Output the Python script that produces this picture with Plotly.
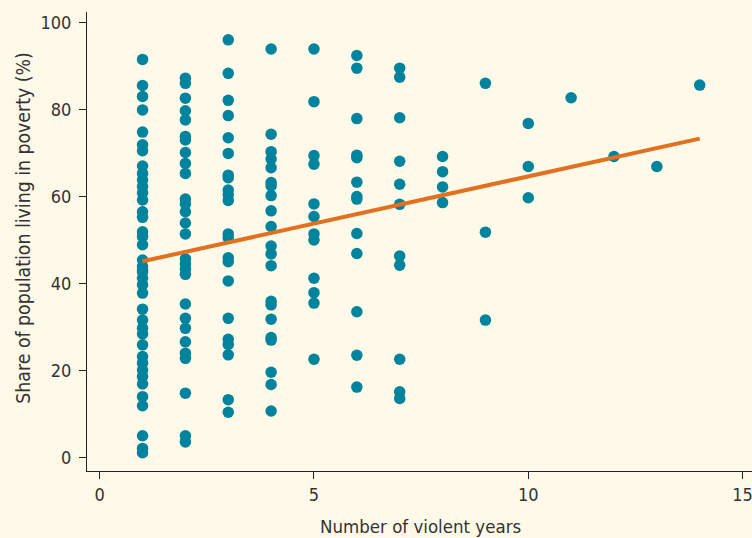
import plotly.graph_objects as go

# ---- data ----
violent_years = (
    [1] * 40 + [2] * 28 + [3] * 22 + [4] * 21 + [5] * 12 + [6] * 13 + [7] * 11
    + [8] * 4 + [9] * 3 + [10] * 3 + [11] + [12] + [13] + [14]
)
poverty_y1 = [91.6, 85.6, 83.1, 80.0, 74.9, 72.0, 70.6, 67.1, 65.4, 63.9, 62.4, 60.9, 59.3,
              56.6, 55.3, 52.0, 50.9, 49.0, 45.5, 44.0, 43.2, 42.8, 41.3, 39.8, 37.9, 34.2,
              31.7, 29.8, 28.5, 26.0, 23.3, 21.8, 20.2, 18.7, 17.0, 14.1, 12.0, 5.1, 2.2, 1.2]
poverty_y2 = [87.3, 86.1, 82.7, 79.8, 77.7, 73.9, 73.1, 70.2, 67.7, 65.4, 59.5, 58.4, 56.6,
              54.0, 51.5, 45.8, 44.6, 43.5, 42.2, 35.4, 32.1, 29.8, 26.7, 24.1, 22.9, 14.9,
              5.1, 3.7]
poverty_y3 = [96.1, 88.4, 82.2, 78.7, 73.6, 70.0, 65.0, 64.4, 61.6, 60.5, 59.2, 51.5, 50.6,
              46.0, 45.1, 40.7, 32.1, 27.3, 26.1, 23.7, 13.4, 10.5]
poverty_y4 = [94.0, 74.4, 70.4, 68.7, 66.7, 63.3, 62.5, 60.3, 56.8, 53.2, 48.7, 46.9, 44.2,
              36.0, 35.2, 31.9, 27.7, 27.1, 19.7, 16.9, 10.8]
poverty_y5 = [94.0, 81.9, 69.5, 67.5, 58.4, 55.5, 51.5, 50.1, 41.3, 38.0, 35.6, 22.7]
poverty_y6 = [92.5, 89.6, 78.0, 69.6, 69.0, 63.4, 60.1, 59.5, 51.6, 47.0, 33.6, 23.6, 16.3]
poverty_y7 = [89.6, 87.5, 78.2, 68.2, 62.9, 58.3, 46.4, 44.3, 22.7, 15.2, 13.7]
poverty_y8 = [69.3, 65.8, 62.3, 58.7]
poverty_y9 = [86.1, 51.9, 31.7]
poverty_y10 = [76.9, 67.0, 59.8]
poverty_y11_14 = [82.8, 69.3, 67.0, 85.7]

poverty_share = (poverty_y1 + poverty_y2 + poverty_y3 + poverty_y4 + poverty_y5 + poverty_y6
                 + poverty_y7 + poverty_y8 + poverty_y9 + poverty_y10 + poverty_y11_14)

fit_x = [1, 14]
fit_y = [45.2, 73.4]

x_ticks = [0, 5, 10, 15]
y_ticks = [0, 20, 40, 60, 80, 100]

TEAL = "#00849D"
ORANGE = "#E2701F"
BG = "#FEF9E8"
TEXT = "#333333"
AXIS = "#222222"
FONT = "DejaVu Sans Condensed, Liberation Sans Narrow, sans-serif"

fig = go.Figure()
fig.add_trace(go.Scatter(
    x=violent_years, y=poverty_share, mode="markers",
    marker=dict(color=TEAL, size=11.5, line=dict(width=0)),
    hoverinfo="x+y", showlegend=False,
))
fig.add_trace(go.Scatter(
    x=fit_x, y=fit_y, mode="lines",
    line=dict(color=ORANGE, width=4),
    showlegend=False,
))

fig.update_layout(
    width=752, height=538,
    margin=dict(l=87, r=0, t=12, b=67),
    paper_bgcolor=BG, plot_bgcolor=BG,
    font=dict(family=FONT, size=16, color=TEXT),
    xaxis=dict(
        range=[-0.296, 15.22], tickvals=x_ticks, showgrid=False, zeroline=False,
        showline=True, linecolor=AXIS, linewidth=1.2,
        ticks="outside", ticklen=7, tickwidth=1.2, tickcolor=AXIS,
        ticklabeloverflow="allow",
        tickfont=dict(family=FONT, size=18, color=TEXT),
    ),
    yaxis=dict(
        range=[-2.99, 102.5], tickvals=y_ticks, showgrid=False, zeroline=False,
        showline=True, linecolor=AXIS, linewidth=1.2,
        ticks="outside", ticklen=7, tickwidth=1.2, tickcolor=AXIS,
        ticklabelstandoff=4,
        tickfont=dict(family=FONT, size=18, color=TEXT),
    ),
    annotations=[
        dict(text="Number of violent years", xref="paper", yref="paper",
             x=0.502, y=0, xanchor="center", yanchor="middle", yshift=-55,
             showarrow=False, font=dict(family=FONT, size=18.5, color=TEXT)),
        dict(text="Share of population living in poverty (%)", xref="paper", yref="paper",
             x=0, y=0.528, xanchor="center", yanchor="middle", xshift=-63, textangle=-90,
             showarrow=False, font=dict(family=FONT, size=19.3, color=TEXT)),
    ],
)

fig.write_html(
    "out.html",
    config={"displayModeBar": False},
    post_script=(
        "document.body.style.margin='0';"
        "document.body.style.overflow='hidden';"
        "document.body.style.background='" + BG + "';"
    ),
)
